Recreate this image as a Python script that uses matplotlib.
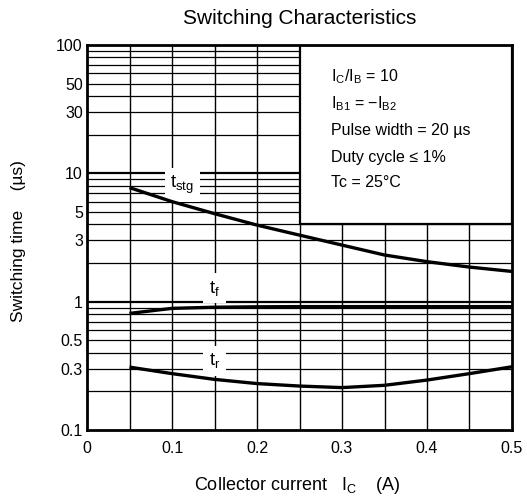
import numpy as np
from matplotlib import pyplot as plt
from matplotlib.patches import Rectangle

plt.rcParams['font.family'] = ['Liberation Sans', 'DejaVu Sans']
plt.rcParams['mathtext.default'] = 'regular'

# collector current (A)
ic = [0.05, 0.10, 0.15, 0.20, 0.25, 0.30, 0.35, 0.40, 0.45, 0.50]
# switching times (us)
t_stg = [7.74, 6.02, 4.85, 3.95, 3.30, 2.76, 2.31, 2.05, 1.86, 1.72]
t_f = [0.81, 0.887, 0.905, 0.912, 0.915, 0.915, 0.915, 0.915, 0.915, 0.915]
t_r = [0.309, 0.275, 0.248, 0.23, 0.22, 0.214, 0.223, 0.245, 0.275, 0.311]

xticks = [0, 0.1, 0.2, 0.3, 0.4, 0.5]
yticks = [0.1, 0.3, 0.5, 1, 3, 5, 10, 30, 50, 100]

conditions = ["$I_C/I_B$ = 10",
              "$I_{B1}$ = \u2212$I_{B2}$",
              "Pulse width = 20 \u00b5s",
              "Duty cycle \u2264 1%",
              "Tc = 25\u00b0C"]

fig = plt.figure(figsize=(5.27, 5.0), dpi=100)
ax = fig.add_axes([87/527, 1-430/500, 425/527, 385/500])
ax.set_yscale('log')
ax.set_xlim(0, 0.5)
ax.set_ylim(0.1, 100)

# grid
for x in np.arange(0.05, 0.5, 0.05):
    ax.axvline(x, color='black', lw=1.0, zorder=1)
for dec in [0.1, 1, 10]:
    for k in range(1, 10):
        y = dec * k
        if y <= 0.1 or y >= 100:
            continue
        ax.axhline(y, color='black', lw=1.6 if k == 1 else 0.9, zorder=1)

# conditions box
ax.add_patch(Rectangle((0.25, 4), 0.25, 96, facecolor='white',
                       edgecolor='black', lw=1.6, zorder=2))
ys = [0.917, 0.847, 0.779, 0.709, 0.642]
for txt, y in zip(conditions, ys):
    ax.text(0.287, y, txt, transform=ax.get_xaxis_transform(),
            ha='left', va='center', fontsize=11.5, zorder=3)

# curves
for t in [t_stg, t_f, t_r]:
    ax.plot(ic, t, color='black', lw=2.4, zorder=4, solid_capstyle='butt')

box = dict(facecolor='white', edgecolor='none', pad=4)
ax.text(0.112, 8.1, "$t_{stg}$", ha='center', va='center', fontsize=13.5,
        bbox=box, zorder=3)
ax.text(0.15, 1.27, "$t_f$", ha='center', va='center', fontsize=13.5,
        bbox=box, zorder=3)
ax.text(0.15, 0.345, "$t_r$", ha='center', va='center', fontsize=13.5,
        bbox=box, zorder=3)

ax.set_xticks(xticks)
ax.set_xticklabels(['0', '0.1', '0.2', '0.3', '0.4', '0.5'])
ax.set_yticks(yticks)
ax.set_yticklabels(['0.1', '0.3', '0.5', '1', '3', '5', '10', '30', '50', '100'])
ax.yaxis.set_minor_locator(plt.NullLocator())
ax.tick_params(length=0, labelsize=11.5)
ax.tick_params(axis='x', pad=8)
ax.tick_params(axis='y', pad=3)
for s in ax.spines.values():
    s.set_linewidth(2.0)
    s.set_zorder(5)

fig.text(300/527, 1-19/500, "Switching Characteristics", fontsize=15,
         ha='center', va='center')
ax.set_xlabel("Collector current   $I_C$    (A)", fontsize=13)
ax.xaxis.set_label_coords(0.494, -0.145)
ax.xaxis.label.set_va('center')
ax.set_ylabel("Switching time    (\u00b5s)", fontsize=12.5)
ax.yaxis.set_label_coords(-0.162, 0.491)
ax.yaxis.label.set_va('center')

plt.savefig('out.png', dpi=100)
